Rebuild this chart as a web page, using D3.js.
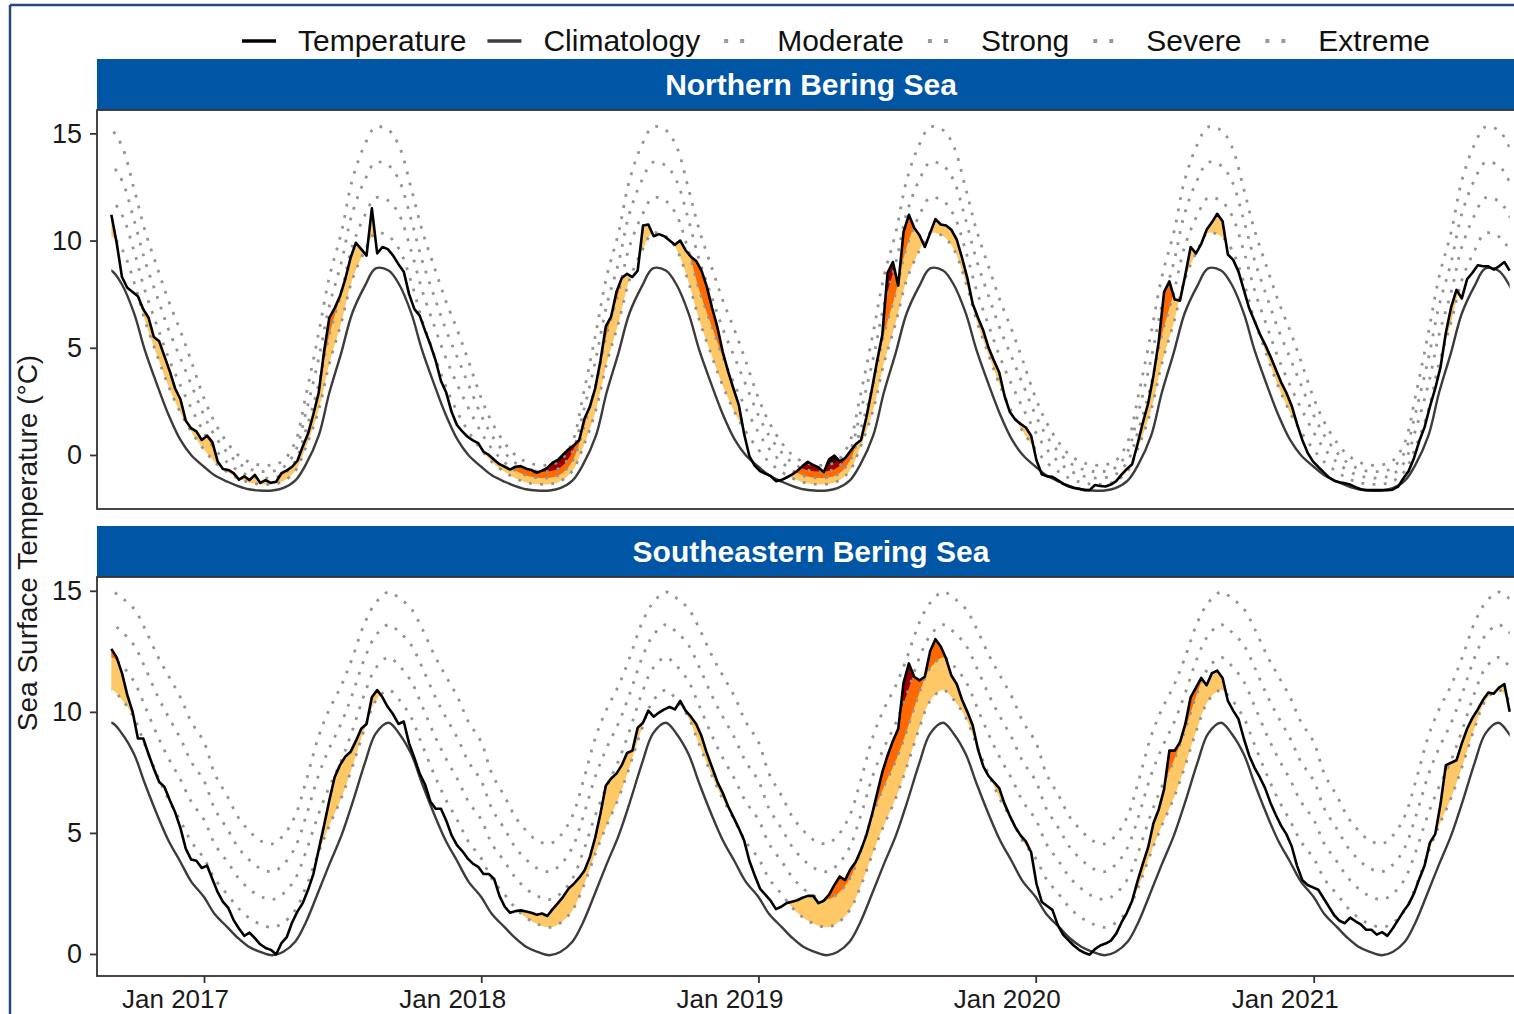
<!DOCTYPE html>
<html>
<head>
<meta charset="utf-8">
<title>Bering Sea surface temperature</title>
<script src="https://cdn.jsdelivr.net/npm/d3@7/dist/d3.min.js"></script>
<style>
  body { margin: 0; background: #fff; }
  text { font-family: "Liberation Sans", Arial, sans-serif; }
</style>
</head>
<body>
<svg id="chart" width="1514" height="1014"></svg>
<script>
// weekly sea surface temperature, first value on seriesStart
var seriesStart = "2016-09-01";
var stepDays = 7;

var northTemp = [
  11.2, 9.9, 8.3, 7.8, 7.6, 7.4, 6.8, 6.4, 5.5, 5.3,
  4.6, 3.9, 3.1, 2.6, 1.6, 1.25, 1.1, 0.7, 0.9, 0.6,
  -0.3, -0.65, -0.7, -0.85, -1.15, -1.0, -1.17, -0.93, -1.3, -1.17,
  -1.3, -1.25, -0.85, -0.72, -0.55, -0.27, 0.4, 1.0, 1.9, 2.9,
  4.8, 6.4, 6.85, 7.4, 8.2, 9.2, 9.9, 9.6, 9.3, 11.5,
  9.4, 9.7, 9.6, 9.3, 8.9, 8.55, 7.5, 6.8, 6.5, 5.8,
  5.15, 4.4, 3.45, 2.9, 2.0, 1.4, 1.1, 0.85, 0.68, 0.55,
  0.15, 0.0, -0.22, -0.43, -0.55, -0.68, -0.55, -0.52, -0.64, -0.7,
  -0.83, -0.73, -0.6, -0.36, -0.23, 0.03, 0.27, 0.45, 0.7, 1.7,
  2.25, 3.1, 4.4, 6.0, 6.45, 7.6, 8.25, 8.45, 8.3, 8.6,
  10.7, 10.75, 10.2, 10.3, 10.2, 10.0, 9.8, 10.0, 9.55, 9.25,
  9.05, 8.6, 7.85, 6.85, 5.95, 4.8, 3.9, 3.1, 2.35, 1.0,
  -0.05, -0.5, -0.75, -0.87, -0.98, -1.22, -1.17, -1.05, -0.92, -0.75,
  -0.52, -0.32, -0.47, -0.58, -0.8, -0.2, -0.03, -0.3, -0.15, 0.18,
  0.5, 0.7, 1.75, 3.0, 4.35, 5.6, 8.5, 9.0, 7.9, 10.4,
  11.2, 10.6, 10.25, 9.7, 10.35, 11.0, 10.75, 10.7, 10.5, 10.05,
  9.2, 8.25, 7.05, 6.4, 5.8, 5.0, 4.4, 3.85, 2.75, 2.0,
  1.65, 1.45, 1.28, 0.9, -0.25, -0.9, -1.0, -1.02, -1.17, -1.35,
  -1.46, -1.54, -1.58, -1.64, -1.64, -1.4, -1.45, -1.47, -1.38, -1.22,
  -0.92, -0.65, -0.43, 0.5, 1.5, 2.4, 3.7, 5.3, 7.6, 8.1,
  7.25, 7.2, 8.4, 9.7, 9.4, 9.85, 10.5, 10.85, 11.25, 10.9,
  9.35, 9.1, 8.55, 7.7, 6.85, 6.25, 5.65, 5.15, 4.6, 4.0,
  3.4, 2.9, 2.3, 1.45, 0.7, 0.1, -0.3, -0.56, -0.8, -1.05,
  -1.2, -1.27, -1.32, -1.38, -1.5, -1.6, -1.64, -1.64, -1.64, -1.64,
  -1.64, -1.62, -1.48, -1.1, -0.75, -0.15, 0.65, 1.3, 2.25, 3.1,
  4.1, 5.7, 6.9, 7.7, 7.3, 8.2, 8.5, 8.85, 8.8, 8.8,
  8.65, 8.8, 9.0, 8.6
];

var southTemp = [
  12.6, 12.25, 11.6, 10.7, 10.0, 8.9, 8.9, 8.25, 7.65, 7.1,
  6.9, 6.35, 5.85, 5.2, 4.35, 3.9, 3.85, 3.55, 3.65, 3.1,
  2.55, 2.15, 1.9, 1.4, 1.05, 0.75, 0.88, 0.65, 0.4, 0.25,
  0.17, -0.02, 0.45, 0.7, 1.3, 1.75, 2.1, 2.65, 3.3, 4.3,
  5.3, 6.35, 7.3, 7.8, 8.15, 8.35, 8.8, 9.3, 9.5, 10.6,
  10.9, 10.6, 10.2, 9.9, 9.5, 9.6, 8.7, 8.1, 7.45, 7.0,
  6.3, 6.0, 6.0, 5.5, 4.9, 4.5, 4.25, 3.95, 3.73, 3.6,
  3.3, 3.3, 3.1, 2.4, 1.95, 1.7, 1.77, 1.8, 1.75, 1.7,
  1.62, 1.67, 1.57, 1.85, 2.1, 2.37, 2.7, 2.9, 3.15, 3.45,
  4.0, 4.8, 5.8, 6.95, 7.25, 7.45, 7.8, 8.3, 8.4, 9.35,
  9.55, 10.05, 9.8, 9.97, 10.1, 10.2, 10.1, 10.45, 10.05, 9.8,
  9.5, 9.0, 8.3, 7.7, 7.1, 6.65, 6.1, 5.65, 5.2, 4.7,
  3.85, 3.25, 2.7, 2.45, 2.2, 1.85, 1.95, 2.1, 2.16, 2.22,
  2.32, 2.4, 2.4, 2.1, 2.2, 2.45, 2.85, 3.2, 3.05, 3.5,
  3.8, 4.3, 4.9, 5.7, 6.6, 7.5, 8.2, 8.8, 9.3, 11.2,
  12.0, 11.45, 11.3, 11.45, 12.5, 13.0, 12.7, 12.2, 11.5, 11.15,
  10.5, 10.0, 9.45, 8.45, 7.75, 7.35, 7.1, 6.85, 6.2, 5.7,
  5.25, 4.9, 4.65, 4.2, 2.9, 2.15, 1.98, 1.82, 1.2, 0.8,
  0.57, 0.35, 0.17, 0.05, -0.03, 0.2, 0.35, 0.43, 0.55, 0.84,
  1.3, 1.7, 2.2, 3.0, 3.72, 4.4, 5.4, 5.97, 6.8, 8.4,
  8.4, 8.75, 9.5, 10.6, 11.0, 11.4, 11.1, 11.6, 11.7, 11.4,
  10.45, 10.05, 9.7, 8.9, 8.2, 7.7, 7.3, 6.85, 6.25, 5.75,
  5.3, 4.95, 4.45, 3.65, 3.05, 2.85, 2.75, 2.65, 2.3, 1.95,
  1.6, 1.37, 1.27, 1.5, 1.35, 1.22, 1.0, 1.0, 0.8, 0.9,
  0.75, 1.05, 1.4, 1.75, 2.05, 2.5, 3.1, 3.65, 4.6, 4.95,
  6.2, 7.8, 7.9, 8.0, 8.7, 9.3, 9.75, 10.1, 10.5, 10.8,
  10.75, 11.0, 11.15, 10.0
];

// seasonal climatology and category thresholds, on the 1st and 15th of each month
var seasonDays = ["01-01", "01-15", "02-01", "02-15", "03-01", "03-15",
                  "04-01", "04-15", "05-01", "05-15", "06-01", "06-15",
                  "07-01", "07-15", "08-01", "08-15", "09-01", "09-15",
                  "10-01", "10-15", "11-01", "11-15", "12-01", "12-15"];

var northClim     = [-0.55, -0.95, -1.25, -1.45, -1.6, -1.66, -1.66, -1.55, -1.2, -0.45, 0.9, 2.9, 4.8, 6.6, 7.9, 8.7, 8.6, 7.95, 6.6, 4.9, 3.2, 1.9, 0.7, 0.0];
var northModerate = [0.25, -0.33, -0.8, -1.09, -1.28, -1.36, -1.36, -1.23, -0.75, 0.35, 2.1, 4.25, 6.2, 8.15, 9.55, 10.35, 10.2, 9.6, 8.05, 6.3, 4.57, 3.23, 1.97, 1.1];
var northStrong   = [1.05, 0.29, -0.35, -0.73, -0.96, -1.06, -1.06, -0.91, -0.3, 1.15, 3.3, 5.6, 7.6, 9.7, 11.2, 12.0, 11.85, 11.2, 9.5, 7.7, 5.94, 4.56, 3.24, 2.2];
var northSevere   = [1.85, 0.91, 0.1, -0.37, -0.64, -0.76, -0.76, -0.59, 0.15, 1.95, 4.5, 6.95, 9.0, 11.25, 12.85, 13.65, 13.5, 12.8, 10.95, 9.1, 7.31, 5.89, 4.51, 3.3];
var northExtreme  = [2.65, 1.53, 0.55, -0.01, -0.32, -0.46, -0.46, -0.27, 0.6, 2.75, 5.7, 8.3, 10.4, 12.8, 14.5, 15.3, 15.15, 14.4, 12.4, 10.5, 8.68, 7.22, 5.78, 4.4];

var southClim     = [2.35, 1.65, 1.1, 0.65, 0.3, 0.1, -0.05, 0.08, 0.5, 1.3, 2.6, 3.7, 4.9, 6.2, 7.9, 9.1, 9.55, 9.1, 8.25, 7.05, 5.7, 4.7, 3.8, 3.0];
var southModerate = [3.95, 3.1, 2.45, 1.9, 1.5, 1.25, 1.1, 1.28, 1.8, 2.75, 4.2, 5.3, 6.45, 7.7, 9.35, 10.45, 10.9, 10.5, 9.75, 8.65, 7.35, 6.4, 5.5, 4.65];
var southStrong   = [5.55, 4.55, 3.8, 3.15, 2.7, 2.4, 2.25, 2.48, 3.1, 4.2, 5.8, 6.9, 8.0, 9.2, 10.8, 11.8, 12.25, 11.9, 11.25, 10.25, 9.0, 8.1, 7.2, 6.3];
var southSevere   = [7.15, 6.0, 5.15, 4.4, 3.9, 3.55, 3.4, 3.68, 4.4, 5.65, 7.4, 8.5, 9.55, 10.7, 12.25, 13.15, 13.6, 13.3, 12.75, 11.85, 10.65, 9.8, 8.9, 7.95];
var southExtreme  = [8.75, 7.45, 6.5, 5.65, 5.1, 4.7, 4.55, 4.88, 5.7, 7.1, 9.0, 10.1, 11.1, 12.2, 13.7, 14.5, 14.95, 14.7, 14.25, 13.45, 12.3, 11.5, 10.6, 9.6];

var panelNames = ["Northern Bering Sea", "Southeastern Bering Sea"];
var tickYears = [2017, 2018, 2019, 2020, 2021];
var tickLabels = ["Jan 2017", "Jan 2018", "Jan 2019", "Jan 2020", "Jan 2021"];
var yTicks = [0, 5, 10, 15];
var legendLabels = ["Temperature", "Climatology", "Moderate", "Strong", "Severe", "Extreme"];
var yTitle = "Sea Surface Temperature (\u00B0C)";


function chartBasics() {
	return {
		left : 97,
		right : 1525,
		stripBlue : "#0055a5",
		flames : ["#ffc866", "#ff6900", "#9e0000", "#2d0000"],
		panels : [
			{ stripTop : 59, top : 110, bottom : 509, yDomain : [-2.52, 16.09] },
			{ stripTop : 526, top : 577, bottom : 976, yDomain : [-0.91, 15.57] }
		]
	};
}

function drawChart() {
	var basics = chartBasics();
	var left = basics.left, right = basics.right;

	var svg = d3.select("#chart");
	var defs = svg.append("defs");
	var parseDay = d3.utcParse("%Y-%m-%d");
	var startDate = parseDay(seriesStart);

	var x = d3.scaleUtc()
		.domain([Date.UTC(2017, 0, 1), Date.UTC(2021, 0, 1)])
		.range([204, 1313.7]);

	function weekly(values) {
		return values.map(function(v, i) {
			return { date : d3.utcDay.offset(startDate, i * stepDays), value : v };
		});
	}

	// the seasonal cycle repeats every year
	function seasonal(values) {
		var pts = [];
		for (var yr = 2016; yr <= 2021; yr++) {
			seasonDays.forEach(function(md, j) {
				pts.push({ date : parseDay(yr + "-" + md), value : values[j] });
			});
		}
		pts.push({ date : parseDay("2022-01-01"), value : values[0] });
		return pts;
	}

	var panelData = [
		{ temp : northTemp, clim : northClim, thresholds : [northModerate, northStrong, northSevere, northExtreme] },
		{ temp : southTemp, clim : southClim, thresholds : [southModerate, southStrong, southSevere, southExtreme] }
	];

	// outer frame
	svg.append("line").attr("x1", 10).attr("x2", 1514).attr("y1", 5).attr("y2", 5)
		.attr("stroke", "#24497f").attr("stroke-width", 2.5);
	svg.append("line").attr("x1", 10).attr("x2", 10).attr("y1", 5).attr("y2", 1014)
		.attr("stroke", "#24497f").attr("stroke-width", 2.5);

	var smooth = d3.curveCatmullRom.alpha(0.5);

	basics.panels.forEach(function(p, k) {
		var data = panelData[k];
		var temp = weekly(data.temp);
		var firstDate = temp[0].date, lastDate = temp[temp.length - 1].date;

		var y = d3.scaleLinear().domain(p.yDomain).range([p.bottom, p.top]);

		/* strip */
		svg.append("rect")
			.attr("x", left).attr("y", p.stripTop)
			.attr("width", right - left).attr("height", p.top - p.stripTop)
			.attr("fill", basics.stripBlue);
		svg.append("text")
			.text(panelNames[k])
			.attr("x", (left + right) / 2)
			.attr("y", (p.stripTop + p.top) / 2 + 10.5)
			.attr("text-anchor", "middle")
			.attr("font-size", 30).attr("font-weight", "bold")
			.attr("fill", "#fff");

		/* clips */
		defs.append("clipPath").attr("id", "panel" + k).append("rect")
			.attr("x", left).attr("y", p.top).attr("width", right - left).attr("height", p.bottom - p.top);
		defs.append("clipPath").attr("id", "range" + k).append("rect")
			.attr("x", x(firstDate)).attr("y", p.top)
			.attr("width", x(lastDate) - x(firstDate)).attr("height", p.bottom - p.top);
		defs.append("clipPath").attr("id", "below" + k).append("path")
			.attr("d", d3.area()
				.x(function(d) { return x(d.date); })
				.y0(p.bottom)
				.y1(function(d) { return y(d.value); })(temp));

		var plot = svg.append("g").attr("clip-path", "url(#panel" + k + ")");

		// heatwave category fills: everything above a threshold and below the temperature
		var flames = plot.append("g").attr("clip-path", "url(#below" + k + ")");
		data.thresholds.forEach(function(th, c) {
			flames.append("path")
				.attr("d", d3.area().curve(smooth)
					.x(function(d) { return x(d.date); })
					.y0(p.top)
					.y1(function(d) { return y(d.value); })(seasonal(th)))
				.attr("fill", basics.flames[c]);
		});

		var lineGen = d3.line().curve(smooth)
			.x(function(d) { return x(d.date); })
			.y(function(d) { return y(d.value); });

		var ranged = plot.append("g").attr("clip-path", "url(#range" + k + ")");
		data.thresholds.forEach(function(th) {
			ranged.append("path")
				.attr("d", lineGen(seasonal(th)))
				.attr("fill", "none")
				.attr("stroke", "#939393")
				.attr("stroke-width", 2.8)
				.attr("stroke-dasharray", "2.8 8.4");
		});
		ranged.append("path")
			.attr("d", lineGen(seasonal(data.clim)))
			.attr("fill", "none")
			.attr("stroke", "#3c3c3c")
			.attr("stroke-width", 2.4);

		plot.append("path")
			.attr("d", d3.line()
				.x(function(d) { return x(d.date); })
				.y(function(d) { return y(d.value); })(temp))
			.attr("fill", "none")
			.attr("stroke", "#000")
			.attr("stroke-width", 2.6)
			.attr("stroke-linejoin", "round");

		/* panel border */
		svg.append("rect")
			.attr("x", left).attr("y", p.top)
			.attr("width", right - left).attr("height", p.bottom - p.top)
			.attr("fill", "none").attr("stroke", "#333").attr("stroke-width", 1.8);

		/* y axis */
		var yAxis = svg.append("g")
			.attr("transform", "translate(" + left + ",0)")
			.call(d3.axisLeft(y).tickValues(yTicks).tickSize(7).tickPadding(8));
		yAxis.select(".domain").remove();
		yAxis.selectAll(".tick line").attr("stroke", "#333").attr("stroke-width", 1.8);
		yAxis.selectAll(".tick text")
			.attr("font-size", 27).attr("fill", "#1a1a1a")
			.style("font-family", "'Liberation Sans', Arial, sans-serif");

		/* x axis on the lower panel only */
		if (k === basics.panels.length - 1) {
			var xAxis = svg.append("g")
				.attr("transform", "translate(0," + p.bottom + ")")
				.call(d3.axisBottom(x)
					.tickValues(tickYears.map(function(yr) { return new Date(Date.UTC(yr, 0, 1)); }))
					.tickFormat(function(d, i) { return tickLabels[i]; })
					.tickSize(7).tickPadding(7));
			xAxis.select(".domain").remove();
			xAxis.selectAll(".tick line").attr("stroke", "#333").attr("stroke-width", 1.8);
			// labels sit a little left of their ticks, as in the original
			xAxis.selectAll(".tick text")
				.attr("dx", -29)
				.attr("font-size", 26).attr("fill", "#1a1a1a")
				.style("font-family", "'Liberation Sans', Arial, sans-serif");
		}
	});

	/* y title */
	svg.append("text")
		.text(yTitle)
		.attr("transform", "translate(37,543) rotate(-90)")
		.attr("text-anchor", "middle")
		.attr("font-size", 28)
		.attr("fill", "#1a1a1a");

	/* legend */
	var lx = 242, ly = 41;
	legendLabels.forEach(function(label, i) {
		if (i === 0 || i === 1) {
			svg.append("line")
				.attr("x1", lx).attr("x2", lx + 34).attr("y1", ly).attr("y2", ly)
				.attr("stroke", i === 0 ? "#000" : "#3c3c3c")
				.attr("stroke-width", 3.5);
		} else {
			svg.append("line")
				.attr("x1", lx + 3).attr("x2", lx + 27).attr("y1", ly).attr("y2", ly)
				.attr("stroke", "#9a9a9a")
				.attr("stroke-width", 4)
				.attr("stroke-dasharray", "4 12");
		}
		var t = svg.append("text")
			.text(label)
			.attr("x", lx + 56)
			.attr("y", ly + 10)
			.attr("font-size", 30)
			.attr("fill", "#111");
		lx = lx + 56 + t.node().getComputedTextLength() + 21;
	});
}

drawChart();
</script>
</body>
</html>
